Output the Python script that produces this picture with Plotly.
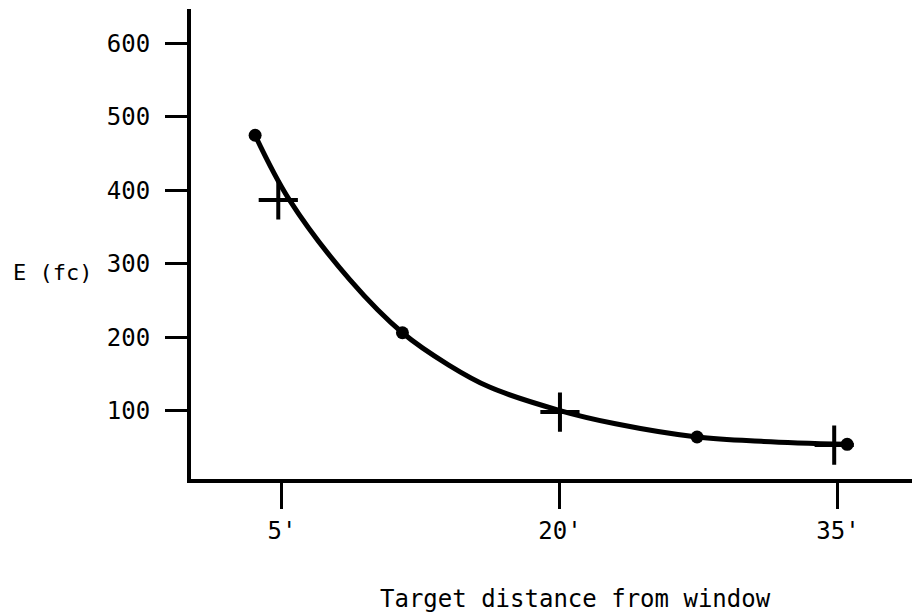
import plotly.graph_objects as go

# measured points (dots) and second set (crosses), distance in feet, E in fc
dot_x = [3.55, 11.5, 27.4, 35.5]
dot_y = [475, 206, 64, 54]
plus_x = [4.8, 20.0, 34.8]
plus_y = [387, 98, 53]

# hand drawn fitted curve
curve_x = [3.55, 5.4, 8.67, 11.5, 14.0, 16.2, 20.0, 23.0, 27.4, 31.0, 35.5]
curve_y = [475, 387, 278, 206, 162, 132, 100, 82, 64, 58, 54]

tick_vals_x = [5, 20, 35]
tick_text_x = ["5'", "20'", "35'"]
tick_vals_y = [100, 200, 300, 400, 500, 600]

FONT = "DejaVu Sans Mono, monospace"

fig = go.Figure()
fig.add_trace(go.Scatter(
    x=curve_x, y=curve_y, mode='lines',
    line=dict(color='black', width=5, shape='spline', smoothing=1.0),
    hoverinfo='skip'
))
fig.add_trace(go.Scatter(
    x=dot_x, y=dot_y, mode='markers',
    marker=dict(color='black', size=13, symbol='circle')
))
fig.add_trace(go.Scatter(
    x=plus_x, y=plus_y, mode='markers',
    marker=dict(symbol='cross-thin', size=28, color='black',
                line=dict(color='black', width=4))
))

# page body has an 8px margin, so the figure is 8px smaller than the window
fig.update_layout(
    width=912, height=608,
    margin=dict(l=183, r=0, t=1, b=137),
    paper_bgcolor='white', plot_bgcolor='white',
    showlegend=False,
    font=dict(family=FONT, size=24, color='black'),
    xaxis=dict(
        range=[0.09, 39.43], tickvals=tick_vals_x, ticktext=tick_text_x,
        ticks='outside', ticklen=26, tickwidth=3, tickcolor='black',
        ticklabelstandoff=1,
        showline=True, linewidth=4, linecolor='black',
        showgrid=False, zeroline=False,
        tickfont=dict(family=FONT, size=24)
    ),
    yaxis=dict(
        range=[6.8, 647], tickvals=tick_vals_y,
        ticks='outside', ticklen=22, tickwidth=3, tickcolor='black',
        ticklabelstandoff=10,
        showline=True, linewidth=4, linecolor='black',
        showgrid=False, zeroline=False,
        tickfont=dict(family=FONT, size=24)
    ),
    annotations=[
        dict(text="E (fc)", xref='paper', yref='paper', x=-0.247, y=0.44,
             xanchor='left', yanchor='middle', showarrow=False,
             font=dict(family=FONT, size=22)),
        dict(text="Target distance from window", xref='paper', yref='paper',
             x=0.527, y=-0.255, xanchor='center', yanchor='middle', showarrow=False,
             font=dict(family=FONT, size=24)),
    ]
)

fig.write_html("out.html")
